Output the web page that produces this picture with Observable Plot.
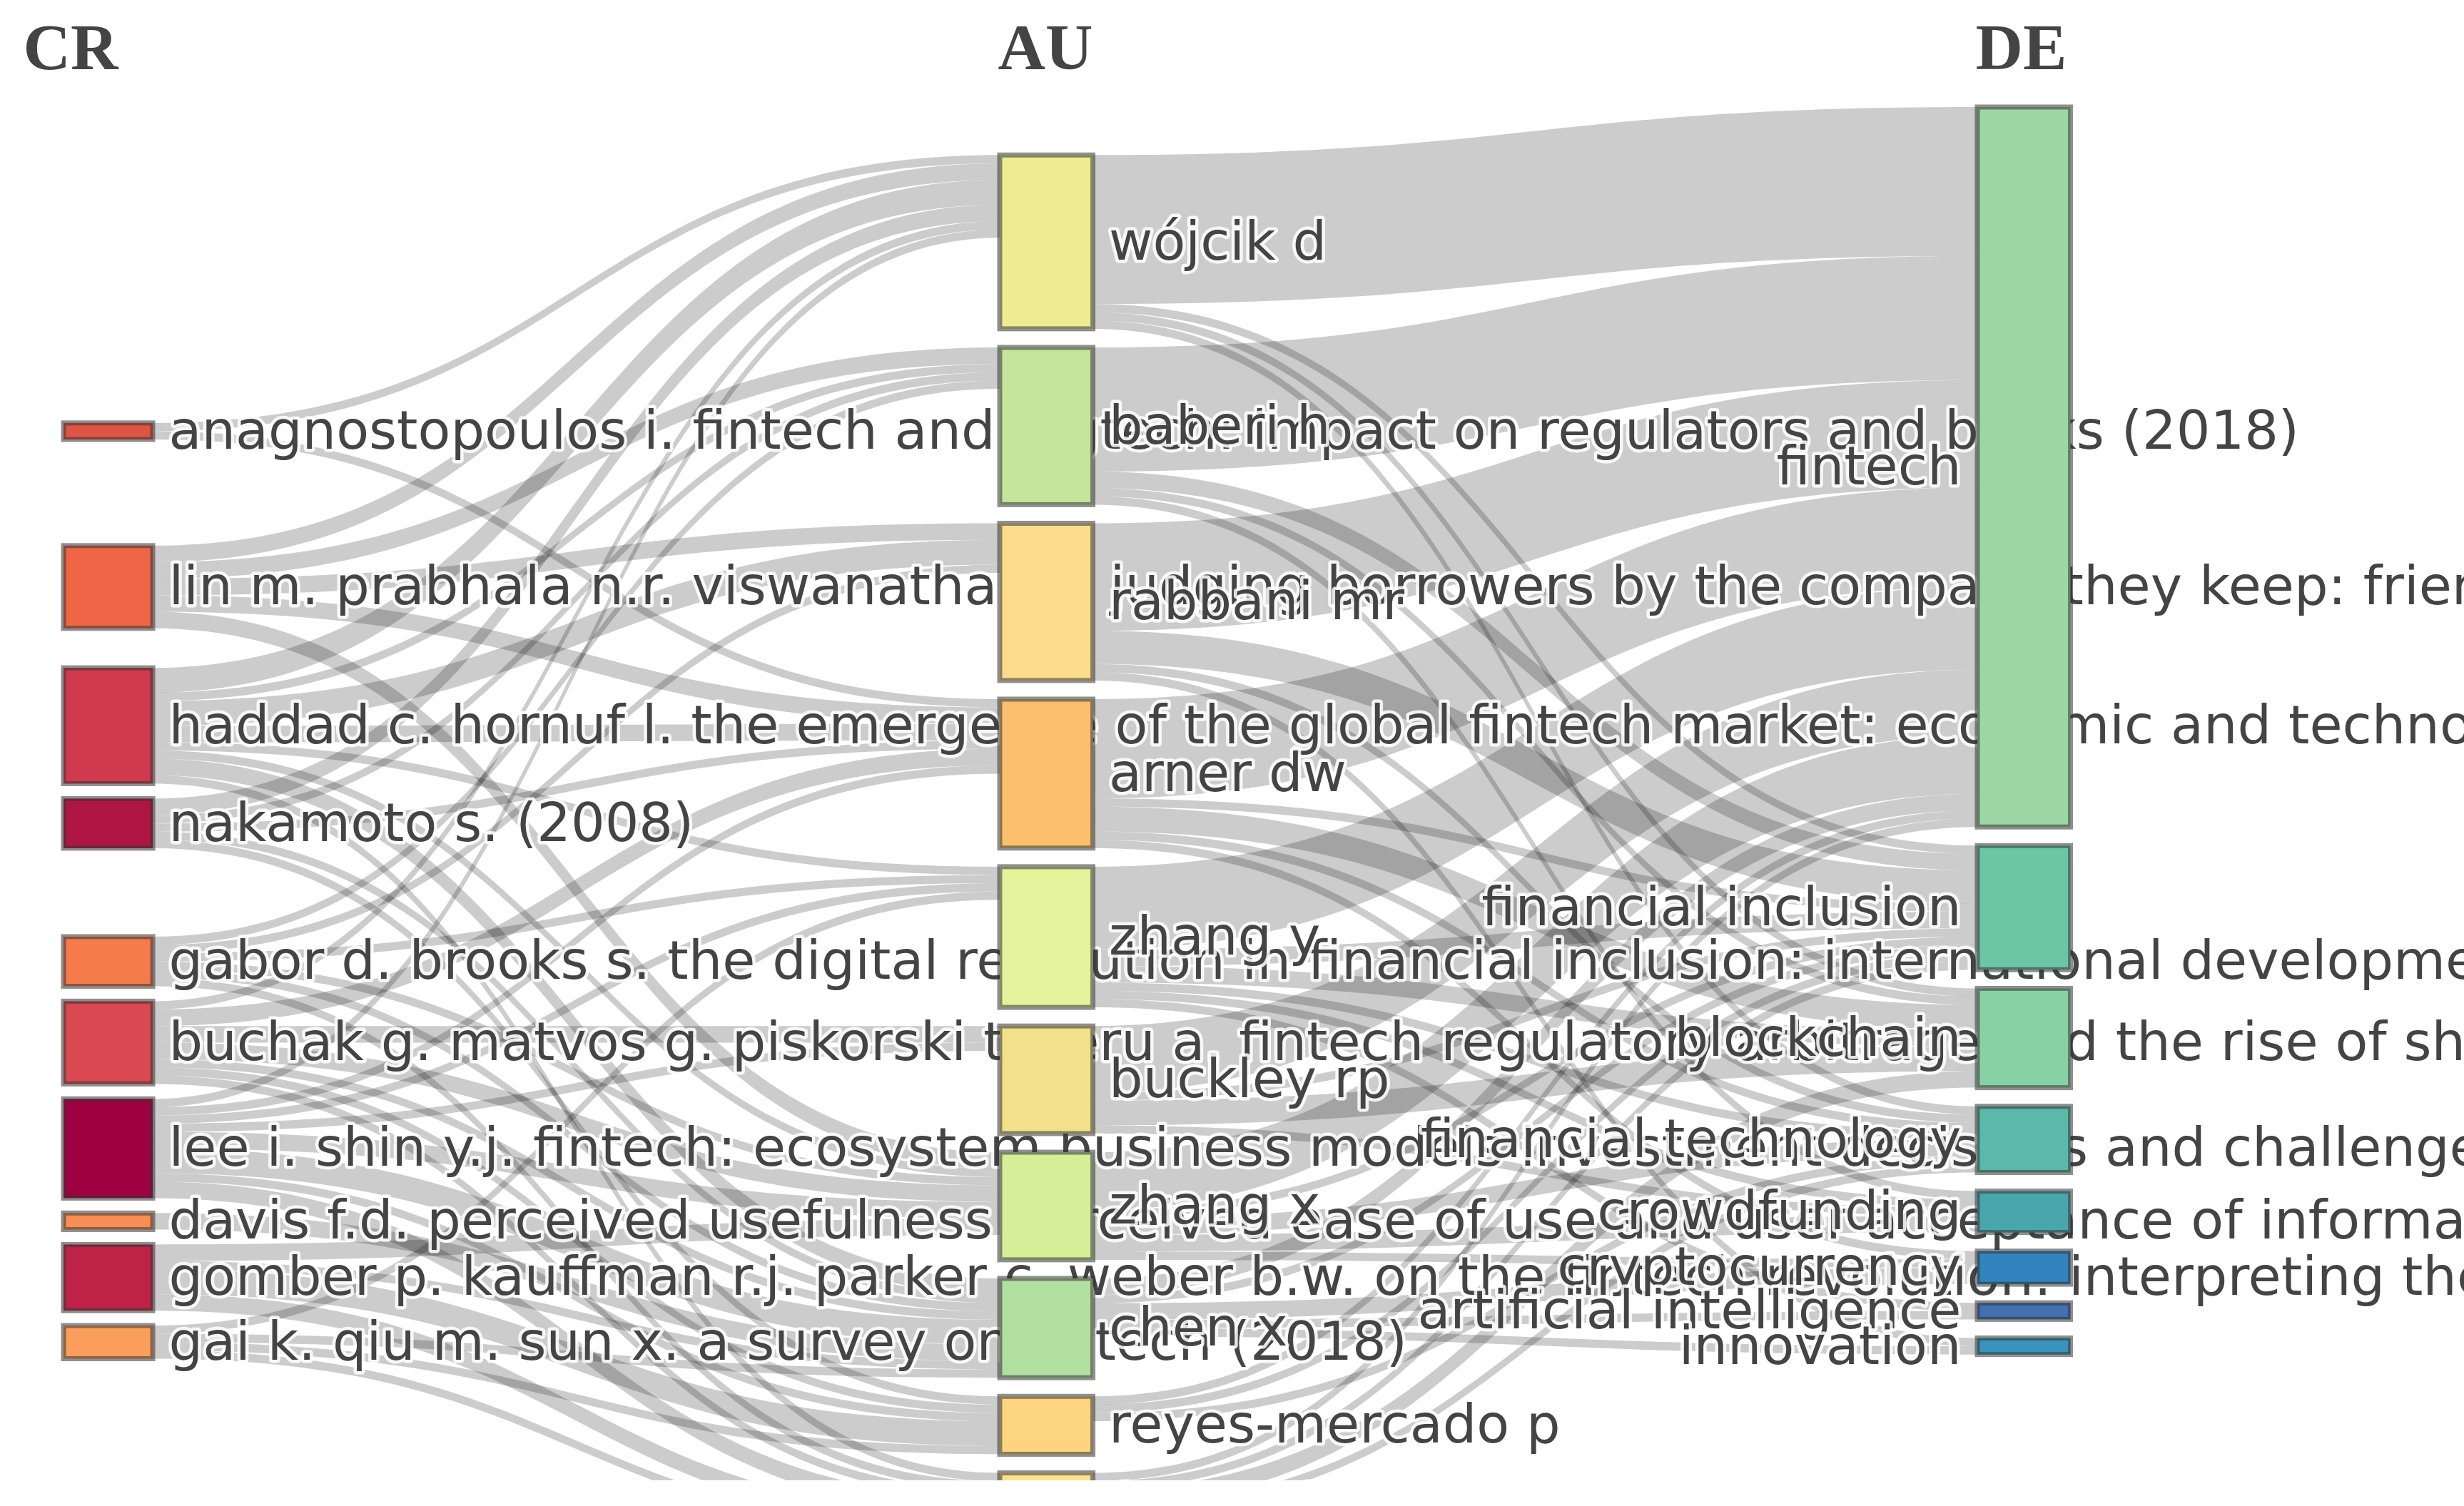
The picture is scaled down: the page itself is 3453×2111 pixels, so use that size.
<!DOCTYPE html>
<html>
<head>
<meta charset="utf-8">
<script src="https://cdn.jsdelivr.net/npm/d3@7"></script>
<script src="https://cdn.jsdelivr.net/npm/@observablehq/plot@0.6"></script>
<style>
  html, body { margin: 0; padding: 0; background: #fff; overflow: hidden; }
  #chart svg { display: block; }
</style>
</head>
<body>
<div id="chart"></div>
<script>
// ---------------- DATA ----------------
const fields = ["CR", "AU", "DE"];

const crLabels = [
  "anagnostopoulos i. fintech and regtech: impact on regulators and banks (2018)",
  "lin m. prabhala n.r. viswanathan s. judging borrowers by the company they keep: friendship networks and information asymmetry in online peer-to-peer lending (2013)",
  "haddad c. hornuf l. the emergence of the global fintech market: economic and technological determinants (2019)",
  "nakamoto s. (2008)",
  "gabor d. brooks s. the digital revolution in financial inclusion: international development in the fintech era (2017)",
  "buchak g. matvos g. piskorski t. seru a. fintech regulatory arbitrage and the rise of shadow banks (2018)",
  "lee i. shin y.j. fintech: ecosystem business models investment decisions and challenges (2018)",
  "davis f.d. perceived usefulness perceived ease of use and user acceptance of information technology (1989)",
  "gomber p. kauffman r.j. parker c. weber b.w. on the fintech revolution: interpreting the forces of innovation disruption and transformation in financial services (2018)",
  "gai k. qiu m. sun x. a survey on fintech (2018)"
];

const auLabels = [
  "wójcik d", "baberi h", "rabbani mr", "arner dw", "zhang y",
  "buckley rp", "zhang x", "chen x", "reyes-mercado p", "fernandez-villaverde j"
];

const deLabels = [
  "fintech", "financial inclusion", "blockchain", "financial technology",
  "crowdfunding", "cryptocurrency", "artificial intelligence", "innovation"
];

// CR -> AU flows: [CR index, AU index, value]
const crAuLinks = [
  [0, 0, 1], [0, 3, 1],
  [1, 0, 2], [1, 1, 2], [1, 2, 2], [1, 3, 2], [1, 6, 2],
  [2, 0, 3], [2, 1, 1], [2, 2, 3], [2, 3, 2], [2, 4, 1], [2, 6, 1], [2, 7, 2], [2, 9, 1],
  [3, 0, 2], [3, 1, 1], [3, 3, 1], [3, 7, 1], [3, 8, 1],
  [4, 1, 1], [4, 2, 1], [4, 4, 1], [4, 6, 1], [4, 7, 1], [4, 9, 1],
  [5, 0, 1], [5, 3, 2], [5, 5, 2], [5, 6, 2], [5, 7, 1], [5, 8, 1], [5, 9, 1],
  [6, 0, 1], [6, 3, 1], [6, 4, 1], [6, 5, 1], [6, 6, 2], [6, 7, 3], [6, 8, 1], [6, 9, 2],
  [7, 7, 2],
  [8, 6, 2], [8, 7, 1], [8, 8, 3], [8, 9, 2],
  [9, 4, 1], [9, 7, 1], [9, 8, 1], [9, 9, 1]
];

// AU -> DE flows: [AU index, DE index, value]
const auDeLinks = [
  [0, 0, 18], [0, 1, 1], [0, 2, 1], [0, 3, 1],
  [1, 0, 15], [1, 1, 2], [1, 2, 1], [1, 4, 1],
  [2, 0, 13], [2, 1, 4], [2, 3, 1], [2, 7, 1],
  [3, 0, 12], [3, 1, 1], [3, 2, 3], [3, 3, 1], [3, 5, 1],
  [4, 0, 10], [4, 1, 2], [4, 2, 2], [4, 3, 1], [4, 4, 1], [4, 6, 1],
  [5, 0, 8], [5, 1, 1], [5, 2, 3], [5, 4, 1],
  [6, 0, 7], [6, 1, 1], [6, 3, 2], [6, 4, 2], [6, 5, 1],
  [7, 0, 2], [7, 1, 1], [7, 5, 2], [7, 6, 1], [7, 7, 1],
  [8, 0, 1], [8, 1, 1], [8, 3, 1],
  [9, 0, 1], [9, 1, 1], [9, 2, 2], [9, 3, 1]
];

// ---------------- STYLE ----------------
const crColors = ["#e05444", "#ee6645", "#d13a4e", "#ae1542", "#f57b4a", "#da4852", "#9e0142", "#f98e52", "#be2347", "#fb9e5b"];
const auColors = ["#edec92", "#c4e59c", "#fadc8b", "#fcbf6e", "#e4f29b", "#f2e18a", "#d5ee98", "#b1dfa0", "#fdd47f", "#fee08b"];
const deColors = ["#9dd7a4", "#6cc5a5", "#88d1a5", "#5ab9a8", "#4aa6ad", "#3184be", "#4270b1", "#3a93bd"];

const NODE_W = 0.0953;   // node width in column units
const PAD = 2.25;        // gap between nodes in flow units
const CR_PAD = 1.8;      // tighter spacing left after relaxation in the first column
const AU_INSET = 5.8;    // middle column starts a little lower (flow units)

// ---------------- LAYOUT (sankey-like) ----------------
function makeNodes(labels, colors, col) {
  return labels.map((label, idx) => ({label, color: colors[idx], col, idx, src: [], tgt: []}));
}
const crNodes = makeNodes(crLabels, crColors, 0);
const auNodes = makeNodes(auLabels, auColors, 1);
const deNodes = makeNodes(deLabels, deColors, 2);

const links = [];
function addLinks(list, from, to) {
  for (const [s, t, v] of list) {
    const l = {source: from[s], target: to[t], value: v};
    from[s].src.push(l); to[t].tgt.push(l); links.push(l);
  }
}
addLinks(crAuLinks, crNodes, auNodes);
addLinks(auDeLinks, auNodes, deNodes);

for (const n of [...crNodes, ...auNodes, ...deNodes]) {
  n.value = Math.max(d3.sum(n.src, l => l.value), d3.sum(n.tgt, l => l.value));
  n.src.sort((a, b) => a.target.idx - b.target.idx);
  n.tgt.sort((a, b) => a.source.idx - b.source.idx);
}

function stack(nodes, start) {
  let y = start;
  for (const n of nodes) { n.y0 = y; n.y1 = y + n.value; y = n.y1 + PAD; }
  return y - PAD;
}
function linkOffsets(nodes) {
  for (const n of nodes) {
    let y = n.y0; for (const l of n.src) { l.sy0 = y; y += l.value; }
    y = n.y0;     for (const l of n.tgt) { l.ty0 = y; y += l.value; }
  }
}
const bottom = stack(deNodes, 0);
stack(auNodes, AU_INSET);
linkOffsets(auNodes);
linkOffsets(deNodes);

// place each CR node where its links would run level, then resolve overlaps
for (const n of crNodes) {
  let off = 0, s = 0, w = 0;
  for (const l of n.src) { s += (l.ty0 - off) * l.value; w += l.value; off += l.value; }
  n.y0 = s / w; n.y1 = n.y0 + n.value;
}
{
  let y = 0;
  for (const n of crNodes) { if (n.y0 < y) { n.y1 += y - n.y0; n.y0 = y; } y = n.y1 + CR_PAD; }
  y = bottom + 0.5;
  for (const n of [...crNodes].reverse()) { if (n.y1 > y) { n.y0 -= n.y1 - y; n.y1 = y; } y = n.y0 - CR_PAD; }
}
linkOffsets(crNodes);

const linkRows = [];
links.forEach((l, i) => {
  linkRows.push({id: i, x: l.source.col + NODE_W, y1: l.sy0, y2: l.sy0 + l.value});
  linkRows.push({id: i, x: l.target.col, y1: l.ty0, y2: l.ty0 + l.value});
});

// ---------------- MARKS ----------------
const nodeRect = (data) => Plot.rect(data, {
  x1: d => d.col, x2: d => d.col + NODE_W, y1: "y0", y2: "y1",
  fill: "color", stroke: "#333", strokeOpacity: 0.55, strokeWidth: 7
});
const labelStyle = {
  y: d => (d.y0 + d.y1) / 2, text: "label", fontSize: 75, fontFamily: "DejaVu Sans",
  fill: "#444", stroke: "white", strokeWidth: 9, strokeOpacity: 0.85
};
const rightLabel = (data) => Plot.text(data, {...labelStyle, x: d => d.col + NODE_W, textAnchor: "start", dx: 22});
const leftLabel = (data) => Plot.text(data, {...labelStyle, x: d => d.col, textAnchor: "end", dx: -23});
const headerStyle = {
  text: d => d, frameAnchor: "top", lineAnchor: "top", dy: 31, textAnchor: "start",
  fontSize: 92, fontWeight: "bold", fontFamily: "Liberation Serif", fill: "#444"
};

const chart = Plot.plot({
  width: 3453,
  height: 2075,
  margin: 0,
  style: {background: "white", fontFamily: "DejaVu Sans"},
  x: {type: "linear", domain: [0, 1, 2], range: [89, 1401, 2771], axis: null},
  y: {type: "linear", domain: [0, 170], range: [150, 150 + 170 * 11.6], axis: null},
  color: {type: "identity"},
  marks: [
    Plot.areaY(linkRows, {x: "x", y1: "y1", y2: "y2", z: "id", curve: "bump-x", fill: "black", fillOpacity: 0.2}),
    nodeRect(crNodes), rightLabel(crNodes),
    nodeRect(auNodes), rightLabel(auNodes),
    nodeRect(deNodes), leftLabel(deNodes),
    Plot.text(fields.slice(0, 1), {...headerStyle, x: () => 0, dx: -57}),
    Plot.text(fields.slice(1), {...headerStyle, x: (d, i) => i + 1, dx: -3})
  ]
});
document.getElementById("chart").appendChild(chart);
</script>
</body>
</html>
